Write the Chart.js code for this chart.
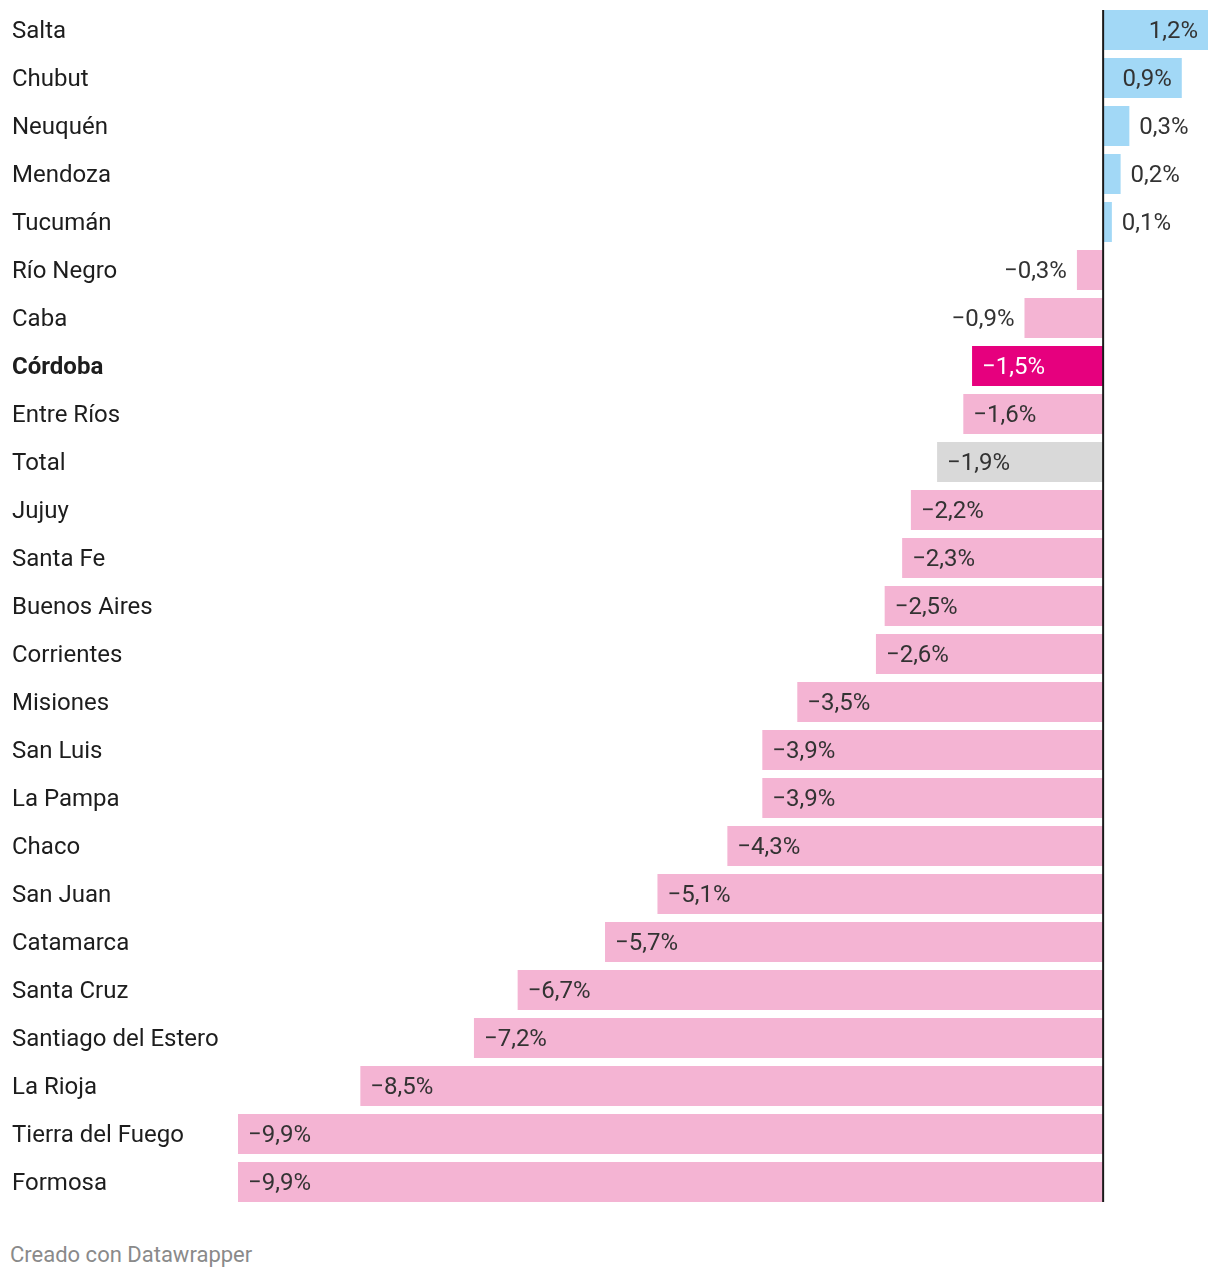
<!DOCTYPE html>
<html>
<head>
<meta charset="utf-8">
<script src="https://cdn.jsdelivr.net/npm/chart.js@4"></script>
<style>
  body { margin: 0; background: #fff; font-family: Roboto, sans-serif; }
  #wrap { position: relative; width: 1220px; height: 1220px; }
  #footer { position: absolute; left: 10px; top: 1242px; font-size: 22px; color: #8a8a8a; font-family: Roboto, sans-serif; }
</style>
</head>
<body>
<div id="wrap"><canvas id="chart"></canvas></div>
<div id="footer">Creado con Datawrapper</div>
<script>
const provinces = ['Salta', 'Chubut', 'Neuquén', 'Mendoza', 'Tucumán', 'Río Negro', 'Caba', 'Córdoba',
    'Entre Ríos', 'Total', 'Jujuy', 'Santa Fe', 'Buenos Aires', 'Corrientes', 'Misiones', 'San Luis',
    'La Pampa', 'Chaco', 'San Juan', 'Catamarca', 'Santa Cruz', 'Santiago del Estero', 'La Rioja',
    'Tierra del Fuego', 'Formosa'];
const changes = [1.2, 0.9, 0.3, 0.2, 0.1, -0.3, -0.9, -1.5, -1.6, -1.9, -2.2, -2.3, -2.5, -2.6, -3.5,
    -3.9, -3.9, -4.3, -5.1, -5.7, -6.7, -7.2, -8.5, -9.9, -9.9];
const highlight = 'Córdoba';
const totalLabel = 'Total';

function barColor(name, v) {
    if (name === highlight) return '#e6007e';
    if (name === totalLabel) return '#d9d9d9';
    return v >= 0 ? '#a2d8f6' : '#f4b4d3';
}

function fmt(v) {
    const s = Math.abs(v).toFixed(1).replace('.', ',') + '%';
    return v < 0 ? '\u2212' + s : s;
}

// value labels + zero line
const labelPlugin = {
    id: 'valueLabels',
    afterDatasetsDraw(chart) {
        const ctx = chart.ctx;
        const meta = chart.getDatasetMeta(0);
        const x0 = chart.scales.x.getPixelForValue(0);
        ctx.save();
        ctx.font = '24px Roboto';
        ctx.textBaseline = 'middle';
        meta.data.forEach((bar, i) => {
            const v = changes[i];
            const text = fmt(v);
            const w = ctx.measureText(text).width;
            const barW = Math.abs(bar.x - x0);
            const inside = w + 20 < barW;
            ctx.fillStyle = provinces[i] === highlight ? '#ffffff' : '#333333';
            if (v >= 0) {
                ctx.textAlign = inside ? 'right' : 'left';
                ctx.fillText(text, inside ? bar.x - 10 : bar.x + 10, bar.y + 2);
            } else {
                ctx.textAlign = inside ? 'left' : 'right';
                ctx.fillText(text, bar.x + (inside ? 10 : -10), bar.y + 2);
            }
        });
        const first = meta.data[0], last = meta.data[meta.data.length - 1];
        ctx.strokeStyle = '#1a1a1a';
        ctx.lineWidth = 2;
        ctx.beginPath();
        ctx.moveTo(x0, first.y - first.height / 2);
        ctx.lineTo(x0, last.y + last.height / 2);
        ctx.stroke();
        ctx.restore();
    }
};

new Chart(document.getElementById('chart'), {
    type: 'bar',
    data: {
        labels: provinces,
        datasets: [{
            data: changes,
            backgroundColor: provinces.map((p, i) => barColor(p, changes[i])),
            borderWidth: 0,
            barPercentage: 40 / 48,
            categoryPercentage: 1
        }]
    },
    options: {
        indexAxis: 'y',
        responsive: true,
        maintainAspectRatio: false,
        animation: false,
        layout: { padding: { left: 12, right: 12, top: 6, bottom: 14 } },
        plugins: { legend: { display: false }, tooltip: { enabled: false } },
        scales: {
            x: { display: false, min: -9.9, max: 1.2 },
            y: {
                grid: { display: false, drawTicks: false },
                border: { display: false },
                afterFit(scale) {
                    scale.width = 226;
                    scale.paddingTop = 0;
                    scale.paddingBottom = 0;
                },
                ticks: {
                    crossAlign: 'far',
                    labelOffset: 2,
                    color: '#1d1d1d',
                    font: c => ({
                        family: 'Roboto',
                        size: 24,
                        weight: provinces[c.index] === highlight ? 'bold' : 'normal'
                    })
                }
            }
        }
    },
    plugins: [labelPlugin]
});
</script>
</body>
</html>
